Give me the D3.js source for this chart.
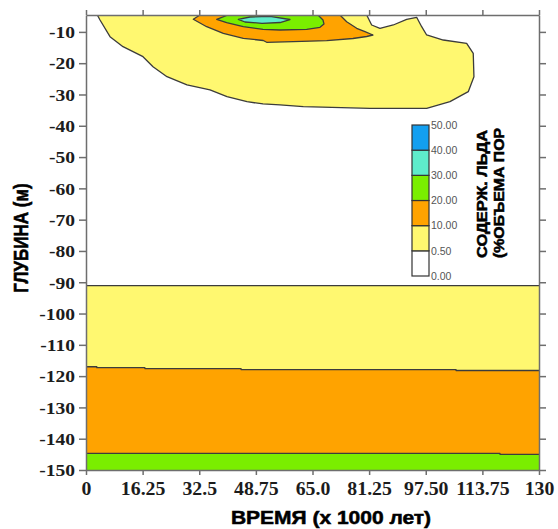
<!DOCTYPE html>
<html>
<head>
<meta charset="utf-8">
<script src="https://cdn.jsdelivr.net/npm/d3@7"></script>
<style>
body{margin:0;background:#fff;}
svg{display:block;}
.axis path,.axis line{stroke:#6e6e6e;stroke-width:1.5;}
.axis text.lab{font-family:"Liberation Serif";font-weight:bold;fill:#1c1c1c;}
.ttl{font-family:"Liberation Sans",Arial,sans-serif;font-weight:bold;fill:#000;stroke:#000;stroke-width:0.5;}
.cont{stroke:#3c3c3c;stroke-width:1.3;stroke-linejoin:round;}
.leglab{font-family:"Liberation Sans",Arial,sans-serif;font-size:10.5px;fill:#555;}
</style>
</head>
<body>
<div id="chart"></div>
<script>
// axes
var xTicks = [0, 16.25, 32.5, 48.75, 65, 81.25, 97.5, 113.75, 130];
var xTickLabels = ["0", "16.25", "32.5", "48.75", "65.0", "81.25", "97.50", "113.75", "130"];
var yTicks = [-10, -20, -30, -40, -50, -60, -70, -80, -90, -100, -110, -120, -130, -140, -150];

// legend: ice content, % of pore volume
var levels = [0, 0.5, 10, 20, 30, 40, 50];
var levelLabels = ["0.00", "0.50", "10.00", "20.00", "30.00", "40.00", "50.00"];
var levelColors = ["#ffffff", "#fff870", "#ffa300", "#7aee00", "#5eeccb", "#139ff0"];

// contour outlines near surface [time, depth]
var blob05 = [[3.24,-4.6],[4.02,-6.2],[6.89,-11.53],[10.62,-14.73],[16.36,-17.92],[19.23,-21.12],
  [23.24,-24.31],[28.98,-26.96],[35.58,-28.56],[40.46,-30.7],[46.2,-32.3],[50.79,-33.03],[55.67,-33.35],
  [62.35,-33.9],[81.49,-34.41],[97.76,-34.41],[104.45,-32.3],[109.7,-29.1],[111.33,-24.31],[111.13,-16.84],
  [109.24,-13.64],[102.53,-12.59],[97.76,-10.99],[96.33,-8.34],[94.89,-5.33],[92.02,-5.97],[88.18,-7.79],
  [84.36,-8.85],[81.98,-7.79],[80.55,-4.6]];
var blob10 = [[30.79,-5.97],[32.71,-4.6],[72.88,-4.6],[74.81,-6.74],[77.68,-8.85],[80.06,-9.94],[82.35,-10.99],
  [80.55,-11.47],[76.61,-12.11],[69.07,-12.81],[59.48,-13.13],[51.85,-13.32],[50.87,-12.75],[45.14,-12.04],
  [39.4,-10.45],[34.63,-8.34]];
var blob20 = [[37.5,-5.97],[40.75,-4.6],[66.57,-4.6],[68.01,-6.2],[68.29,-7.48],[67.15,-8.53],[63.33,-9.17],
  [55.67,-9.39],[50.79,-9.17],[45.14,-8.34],[40.37,-7.06]];
var blob30 = [[43.7,-5.97],[47.06,-5.24],[52.8,-5.02],[58.54,-6.04],[55.67,-7.0],[50.5,-7.25],[45.62,-6.84]];

// deep layers
var frozenTop = -91.1;
var stepT = [0, 3.1, 16.9, 44.5, 106.2, 130];
var orangeTop = [-117.0, -117.3, -117.6, -117.9, -118.2, -118.2];
var greenT = [0, 118.8, 130];
var greenTop = [-144.7, -145.0, -145.0];

var W = 558, H = 529;
var L = 86, R = 539, T = 15, B = 470;

var svg = d3.select("#chart").append("svg")
  .attr("width", W).attr("height", H);

var defs = svg.append("defs");
defs.append("clipPath").attr("id", "plotclip").append("rect")
  .attr("x", L).attr("y", T).attr("width", R - L).attr("height", B - T);

var x = d3.scaleLinear().domain([0, 130]).range([L, R]);
var y = d3.scaleLinear().domain([-150, -4.6]).range([B, T]);

var plot = svg.append("g").attr("clip-path", "url(#plotclip)");

var line = d3.line().x(function(d){return x(d[0])}).y(function(d){return y(d[1])});
var outline = d3.line().x(function(d){return x(d[0])}).y(function(d){return y(d[1])}).curve(d3.curveLinearClosed);

// surface contours
[[blob05, 1], [blob10, 2], [blob20, 3], [blob30, 4]].forEach(function(b){
  plot.append("path").attr("class", "cont").attr("d", outline(b[0])).attr("fill", levelColors[b[1]]);
});

// frozen layers
plot.append("rect").attr("x", x(0)).attr("y", y(frozenTop))
  .attr("width", x(130) - x(0)).attr("height", y(-150) - y(frozenTop)).attr("fill", levelColors[1]);

var area = d3.area().curve(d3.curveStepAfter)
  .x(function(d){return x(d[0])}).y0(y(-150)).y1(function(d){return y(d[1])});
var stepLine = d3.line().curve(d3.curveStepAfter)
  .x(function(d){return x(d[0])}).y(function(d){return y(d[1])});

var oPts = stepT.map(function(t, i){return [t, orangeTop[i]]});
var gPts = greenT.map(function(t, i){return [t, greenTop[i]]});
plot.append("path").attr("d", area(oPts)).attr("fill", levelColors[2]);
plot.append("path").attr("d", area(gPts)).attr("fill", levelColors[3]);
plot.append("path").attr("class", "cont").attr("fill", "none").attr("d", stepLine(oPts));
plot.append("path").attr("class", "cont").attr("fill", "none").attr("d", stepLine(gPts));
plot.append("path").attr("class", "cont").attr("fill", "none")
  .attr("d", line([[0, frozenTop], [130, frozenTop]]));

// axes
var gl = svg.append("g").attr("class", "axis").attr("transform", "translate(" + L + ",0)")
  .call(d3.axisLeft(y).tickValues(yTicks).tickSize(7).tickSizeOuter(0).tickFormat(function(d){return String(d)}));
gl.selectAll(".tick text").attr("class", "lab").attr("x", 0).attr("dy", "0.34em")
  .attr("font-size", 17).attr("transform", "translate(-11,0) scale(1.15,1)");

var gr = svg.append("g").attr("class", "axis").attr("transform", "translate(" + R + ",0)")
  .call(d3.axisRight(y).tickValues(yTicks).tickSize(7).tickSizeOuter(0).tickFormat(""));

var gt = svg.append("g").attr("class", "axis").attr("transform", "translate(0," + T + ")")
  .call(d3.axisTop(x).tickValues(xTicks).tickSize(5).tickSizeOuter(0).tickFormat(""));

var gb = svg.append("g").attr("class", "axis").attr("transform", "translate(0," + B + ")")
  .call(d3.axisBottom(x).tickValues(xTicks).tickSize(5).tickSizeOuter(0)
    .tickFormat(function(d, i){return xTickLabels[i]}));
gb.selectAll(".tick text").attr("class", "lab").attr("y", 0).attr("dy", 0)
  .attr("font-size", 18).attr("transform", "translate(0,25) scale(1.1,1)");

// axis titles
svg.append("text").attr("class", "ttl").attr("text-anchor", "middle").attr("font-size", 17)
  .attr("transform", "translate(28,238) scale(1.2,1) rotate(-90)").text("ГЛУБИНА (м)");
svg.append("text").attr("class", "ttl").attr("text-anchor", "middle").attr("font-size", 17.5)
  .attr("transform", "translate(331,524) scale(1.2,1)").text("ВРЕМЯ (х 1000 лет)");

// legend
var ly = d3.scaleLinear().domain([0, levels.length - 1]).range([276, 125]);
var leg = svg.append("g");
for (var i = 0; i < levels.length - 1; i++) {
  leg.append("rect").attr("x", 412).attr("width", 17)
    .attr("y", ly(i + 1)).attr("height", ly(i) - ly(i + 1))
    .attr("fill", levelColors[i]).attr("stroke", "#333").attr("stroke-width", 1.2);
}
leg.selectAll(".leglab").data(levelLabels).enter().append("text")
  .attr("class", "leglab").attr("x", 431).attr("dy", "0.36em")
  .attr("y", function(d, i){return ly(i)}).text(function(d){return d});

leg.append("text").attr("class", "ttl").attr("font-size", 14).attr("stroke-width", 0.4)
  .attr("textLength", 128).attr("lengthAdjust", "spacingAndGlyphs")
  .attr("transform", "translate(487,258) rotate(-90)").text("СОДЕРЖ. ЛЬДА");
leg.append("text").attr("class", "ttl").attr("font-size", 14).attr("stroke-width", 0.4)
  .attr("textLength", 130).attr("lengthAdjust", "spacingAndGlyphs")
  .attr("transform", "translate(504,258) rotate(-90)").text("(%ОБЪЕМА ПОР");
</script>
</body>
</html>
